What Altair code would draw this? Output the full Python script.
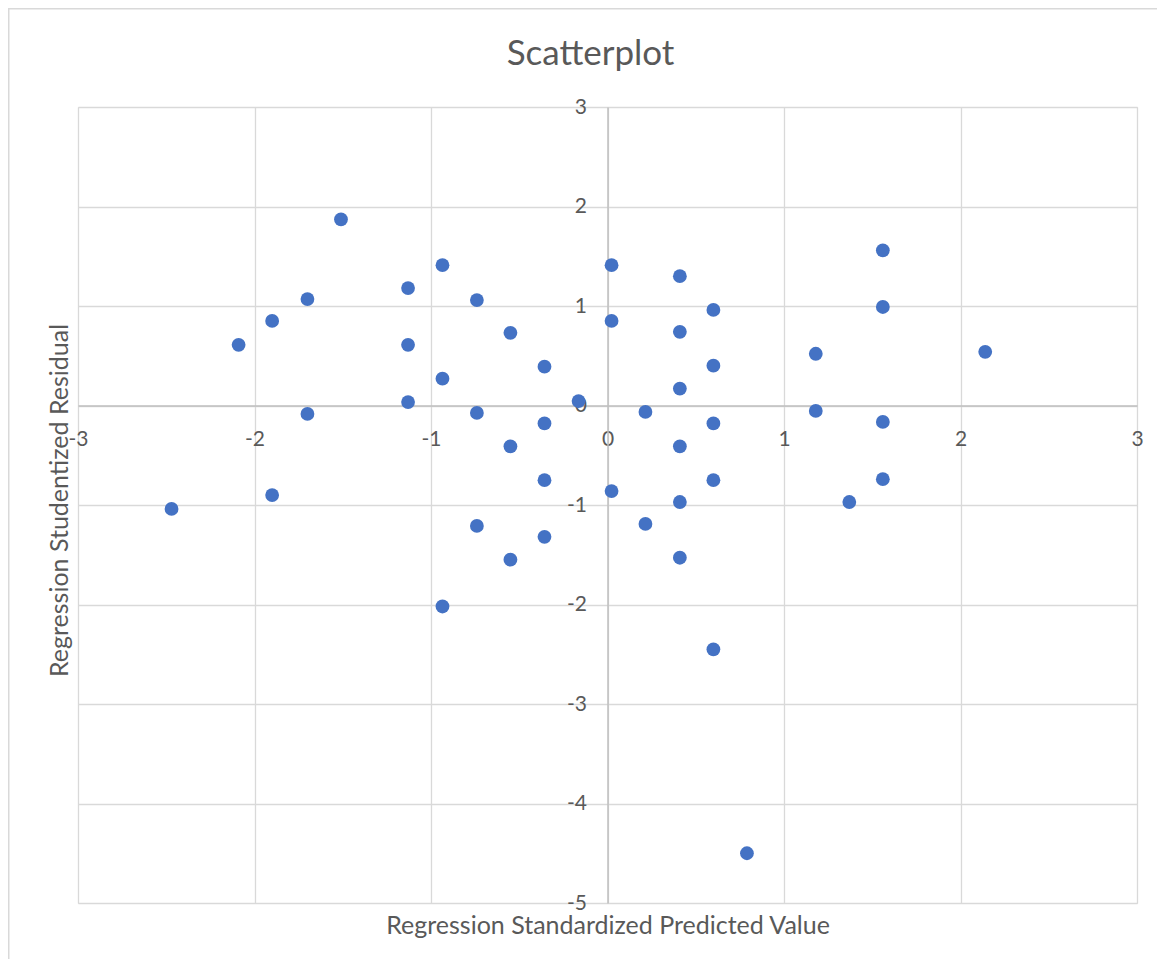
import altair as alt
import pandas as pd

# Data
pred_std = [-2.47, -2.09, -1.90, -1.90, -1.70, -1.70, -1.51, -1.13, -1.13, -1.13,
            -0.935, -0.935, -0.935, -0.74, -0.74, -0.74, -0.55, -0.55, -0.55,
            -0.357, -0.357, -0.357, -0.357, -0.164, 0.023, 0.023, 0.023,
            0.215, 0.215, 0.41, 0.41, 0.41, 0.41, 0.41, 0.41,
            0.60, 0.60, 0.60, 0.60, 0.60, 0.79, 1.18, 1.18, 1.37,
            1.56, 1.56, 1.56, 1.56, 2.14]
resid_stud = [-1.04, 0.61, 0.85, -0.90, 1.07, -0.085, 1.87, 1.18, 0.61, 0.035,
              1.41, 0.27, -2.02, 1.06, -0.075, -1.21, 0.73, -0.41, -1.55,
              0.39, -0.18, -0.75, -1.32, 0.045, 1.41, 0.85, -0.86,
              -0.065, -1.19, 1.30, 0.74, 0.17, -0.41, -0.97, -1.53,
              0.96, 0.40, -0.18, -0.75, -2.45, -4.50, 0.52, -0.055, -0.97,
              1.56, 0.99, -0.165, -0.74, 0.54]
x_ticks = [-3, -2, -1, 0, 1, 2, 3]
y_ticks = [-5, -4, -3, -2, -1, 0, 1, 2, 3]

df = pd.DataFrame({"x": pred_std, "y": resid_stud})

W, H = 1059, 796
X_MIN, X_MAX = -3, 3
Y_MIN, Y_MAX = -5, 3
x0 = W * (0 - X_MIN) / (X_MAX - X_MIN)          # pixel of x = 0
y0 = H * (Y_MAX - 0) / (Y_MAX - Y_MIN)          # pixel of y = 0

TXT = "#595959"
GRID = "#D9D9D9"
AXIS = "#BFBFBF"
FONT = "Lato"
LABEL_EXPR = "'' + datum.value"

x_axis = alt.Axis(
    title="Regression Standardized Predicted Value",
    values=x_ticks, offset=-(H - y0), grid=True, gridColor=GRID, gridWidth=1.3,
    domainColor=AXIS, domainWidth=1.5, ticks=False, tickSize=0,
    labelExpr=LABEL_EXPR,
    labelPadding=39.5, labelBaseline="alphabetic", labelAlign="center",
    labelFlush=False, labelOverlap=False, labelBound=False,
    labelFont=FONT, labelFontSize=21, labelColor=TXT,
    titleFont=FONT, titleFontSize=25, titleFontWeight="normal", titleColor=TXT,
    titleX=W / 2, titleY=(H + 30) - y0, titleBaseline="alphabetic", titleAlign="center",
)
y_axis = alt.Axis(
    title="Regression Studentized Residual",
    values=y_ticks, offset=-x0, grid=True, gridColor=GRID, gridWidth=1.3,
    domainColor=AXIS, domainWidth=1.5, ticks=False, tickSize=0,
    labelExpr=LABEL_EXPR,
    labelPadding=21, labelBaseline="middle", labelAlign="right",
    labelFlush=False, labelOverlap=False, labelBound=False,
    labelFont=FONT, labelFontSize=21, labelColor=TXT,
    titleFont=FONT, titleFontSize=25, titleFontWeight="normal", titleColor=TXT,
    titleX=-11 - x0, titleY=393, titleAngle=-90, titleBaseline="alphabetic", titleAlign="center",
)

points = alt.Chart(df).mark_circle(size=190, color="#4472C4", opacity=1).encode(
    x=alt.X("x:Q", scale=alt.Scale(domain=[X_MIN, X_MAX], nice=False, zero=False), axis=x_axis),
    y=alt.Y("y:Q", scale=alt.Scale(domain=[Y_MIN, Y_MAX], nice=False, zero=False), axis=y_axis),
)

frame = alt.Chart(alt.Data(values=[{}])).mark_rect(
    fillOpacity=0, stroke=GRID, strokeWidth=1.5
).encode(
    x=alt.value(-69.25), x2=alt.value(W + 200),
    y=alt.value(-98.25), y2=alt.value(H + 200),
)

chart = alt.layer(frame, points).properties(
    width=W, height=H,
    title=alt.TitleParams("Scatterplot", font=FONT, fontSize=35, fontWeight="normal",
                          color=TXT, anchor="middle", dx=-17, baseline="alphabetic",
                          offset=-92),
    autosize=alt.AutoSizeParams(type="none"),
    padding={"left": 70, "top": 99, "right": 20, "bottom": 56},
).configure_view(stroke=GRID, strokeWidth=1.5).configure(background="white")

chart.save("out.html", embed_options={"renderer": "svg", "actions": False})
